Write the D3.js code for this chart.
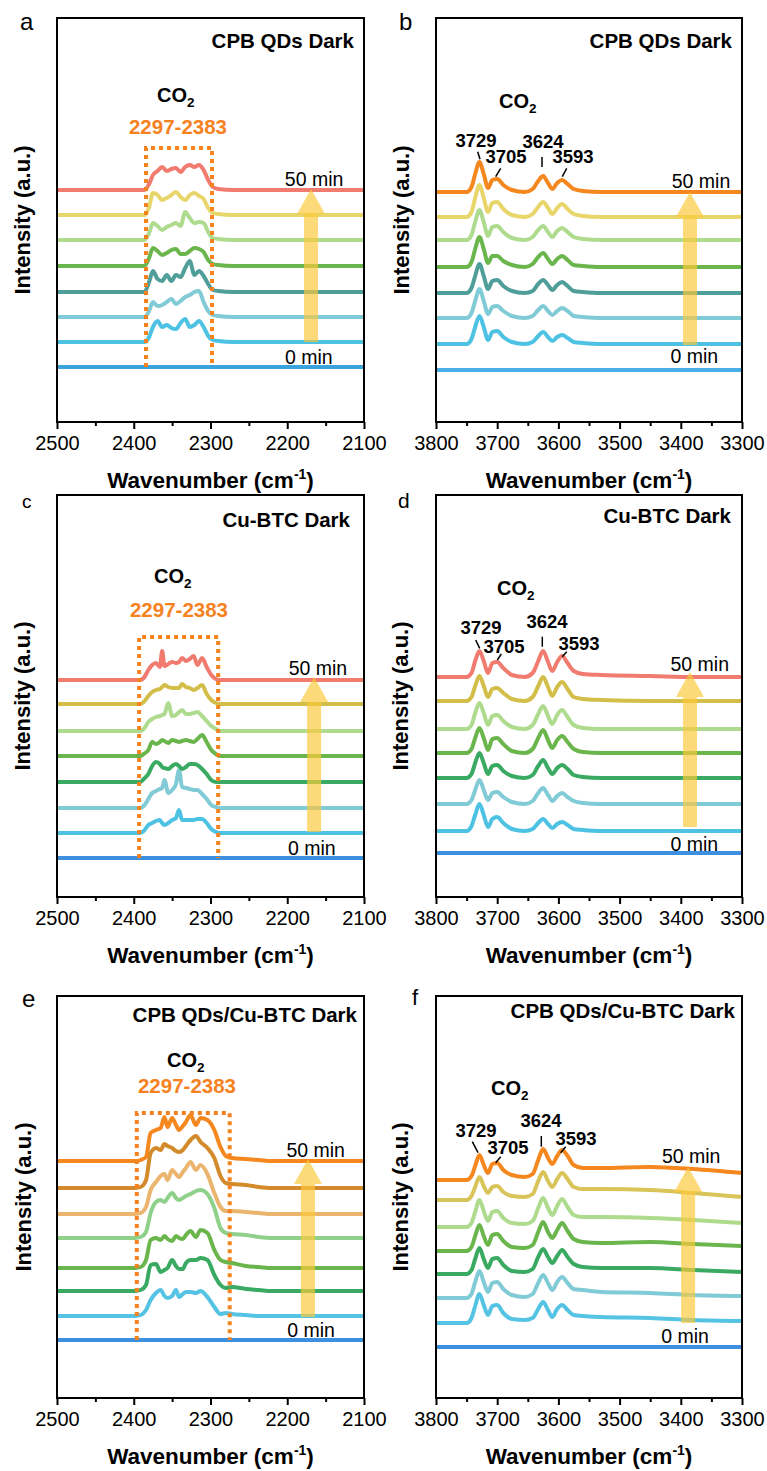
<!DOCTYPE html>
<html lang="en">
<head>
<meta charset="utf-8">
<title>DRIFTS spectra, dark CO2 adsorption</title>
<script src="https://cdn.jsdelivr.net/npm/d3@7"></script>
<style>
  body { margin: 0; background: #fff; }
  svg { font-family: "Liberation Sans", Arial, sans-serif; }
</style>
</head>
<body>
<script>
// ---------- values ----------
// x grids (wavenumber, cm-1)
var wnA = [2500, 2386, 2380, 2375, 2369, 2363, 2357, 2351, 2345, 2339, 2333, 2327, 2321, 2315, 2309, 2303, 2297, 2290, 2270, 2100];
var wnC = [2500, 2392, 2387, 2381, 2376, 2371, 2366, 2363, 2360, 2355, 2350, 2345, 2341, 2337, 2332, 2327, 2322, 2317, 2311, 2305, 2299, 2293, 2288, 2100];
var wnE = [2500, 2398, 2391, 2384, 2378, 2371, 2365, 2360, 2356, 2350, 2345, 2341, 2336, 2332, 2326, 2319, 2313, 2304, 2295, 2287, 2280, 2272, 2254, 2237, 2220, 2100];
var wnOH = [3800, 3750, 3742, 3736, 3729, 3722, 3715, 3708, 3700, 3690, 3676, 3655, 3642, 3633, 3625, 3617, 3610, 3602, 3594, 3585, 3575, 3560, 3530, 3450, 3380, 3300];

var ticksCO2 = [2500, 2400, 2300, 2200, 2100];
var minorCO2 = [2450, 2350, 2250, 2150];
var ticksOH = [3800, 3700, 3600, 3500, 3400, 3300];
var minorOH = [3750, 3650, 3550, 3450, 3350];

var titles = ["CPB QDs Dark", "CPB QDs Dark", "Cu-BTC Dark", "Cu-BTC Dark", "CPB QDs/Cu-BTC Dark", "CPB QDs/Cu-BTC Dark"];
var letters = ["a", "b", "c", "d", "e", "f"];
var timeLabels = ["0 min", "50 min"];
var bandLabel = "2297-2383";
var peakLabels = ["3729", "3705", "3624", "3593"];

// stacking offsets (a.u.): background, 0 min ... 50 min
var offA = [55, 80, 105, 130, 156, 182, 207, 232];
var offB = [52, 78, 104, 129, 155, 182, 205, 230];
var offC = [39, 64, 89, 115, 141, 166, 193, 217];
var offD = [44, 66, 93, 119, 144, 168, 196, 220];
var offE = [58, 82, 107, 130, 160, 184, 210, 237];
var offF = [51, 75, 100, 124, 147, 171, 198, 218];

// spectra above their offset, 0 min first
var specA = [
  [0,0,5,15,21,15,17,14,13,19,23,15,17,21,15,6,2,1,0,0],
  [0,0,6,15,11,12,15,18,13,16,20,22,25,26,15,6,2,1,0,0],
  [0,0,10,21,13,11,17,11,17,15,24,31,17,21,16,8,2,1,0,0],
  [0,0,8,18,15,11,13,16,17,12,12,15,18,17,14,6,2,1,0,0],
  [0,0,7,17,14,10,13,15,17,14,28,22,17,18,17,8,2,1,0,0],
  [0,0,8,22,20,15,17,20,23,18,15,20,22,19,16,7,2,1,0,0],
  [0,0,6,15,19,23,19,21,22,18,23,25,23,25,20,10,3,1,0,0]
];
var specB = [
  [0,0,5,17,28,17,4,12,13,7,2,0,2,8,12,7,3,7,9,6,2,1,0,0,0,0],
  [0,0,5,17,29,17,4,11,12,7,2,0,2,8,12,7,3,7,10,7,2,1,0,0,0,0],
  [0,0,5,17,29,17,4,12,13,7,2,0,2,9,13,8,3,8,11,7,2,1,0,0,0,0],
  [0,0,5,18,30,18,4,11,11,6,2,0,3,10,14,8,3,8,11,7,2,1,0,0,0,0],
  [0,0,5,18,30,18,4,13,14,8,2,0,3,10,14,8,3,9,12,8,3,1,0,0,0,0],
  [0,0,5,19,32,19,5,14,15,8,2,0,3,10,15,9,3,9,13,8,3,1,0,0,0,0],
  [0,0,5,18,30,18,4,12,13,7,2,0,3,11,16,9,3,9,12,8,3,1,0,0,0,0]
];
var specC = [
  [0,0,2,8,10,12,13,10,8,10,13,15,23,13,13,13,13,14,14,10,4,1,0,0],
  [0,0,2,9,15,17,19,20,28,15,18,24,38,21,20,19,18,18,14,9,3,1,0,0],
  [0,0,3,8,16,20,18,15,14,13,16,18,16,13,15,18,18,17,13,8,2,0,0,0],
  [0,0,2,6,14,12,14,16,15,13,16,15,14,15,16,15,14,17,21,14,6,2,0,0],
  [0,0,2,9,12,14,15,16,17,28,15,16,19,21,17,17,18,19,15,10,5,2,0,0],
  [0,0,2,8,12,14,15,17,19,17,16,16,16,20,17,16,14,16,19,10,4,1,0,0],
  [0,0,2,10,15,17,13,29,14,16,18,17,18,22,19,21,24,15,22,13,5,1,0,0]
];
var specD = [
  [0,0,5,16,27,16,4,12,14,8,2,0,2,8,12,7,3,7,9,6,2,1,0,0,0,0],
  [0,0,4,14,24,14,4,11,12,7,2,0,3,11,16,9,3,8,11,7,3,1,0,0,0,0],
  [0,0,4,15,25,15,4,12,13,7,2,0,3,12,18,10,4,10,13,9,3,1,0,0,0,0],
  [0,0,4,15,25,15,3,14,15,9,2,0,4,15,23,13,5,13,17,11,4,1,0,0,0,0],
  [0,0,4,16,26,16,4,13,14,8,2,0,4,15,23,13,5,14,19,12,4,1,0,0,0,0],
  [0,0,4,15,25,15,4,12,13,8,2,0,4,15,24,14,5,14,19,12,4,2,1,0,0,0],
  [0,0,4,16,26,16,4,14,15,9,2,0,4,16,26,15,6,15,21,14,6,3,2,1,0,0]
];
var specE = [
  [0,0,1,6,16,23,26,20,18,20,26,19,22,24,24,23,25,19,9,2,3,2,1,0,0,0],
  [0,0,1,6,26,27,19,21,23,31,25,22,22,28,31,31,33,31,16,6,3,4,2,1,0,0],
  [0,0,1,8,28,30,28,32,29,27,32,30,29,33,37,31,38,35,18,8,6,5,2,1,0,0],
  [0,0,1,6,25,36,38,36,40,45,40,38,40,42,44,47,48,44,30,10,5,4,3,1,0,0],
  [0,0,1,7,24,32,38,40,34,44,40,37,42,46,52,44,49,40,21,7,3,3,2,1,0,0],
  [0,0,1,8,35,40,38,44,42,40,37,36,38,42,48,52,46,40,30,12,5,4,3,1,0,0],
  [0,0,1,4,28,31,33,44,34,43,36,31,35,39,46,36,43,41,31,14,5,3,2,1,0,0]
];
var specF = [
  [0,0,5,17,29,18,8,17,18,10,4,3,5,14,21,13,6,14,18,13,8,7,6,5,3,2],
  [0,0,4,16,27,16,6,15,16,9,3,1,4,15,23,15,8,16,21,15,9,8,6,5,3,2],
  [0,0,4,15,26,15,6,15,16,9,3,2,5,17,25,17,11,18,24,17,10,7,6,6,4,2],
  [0,0,4,15,26,15,6,16,17,10,4,3,6,19,29,19,13,21,28,20,12,9,8,9,7,5],
  [0,0,4,15,27,16,6,15,16,9,4,3,6,19,29,19,12,21,28,20,12,10,10,9,7,4],
  [0,0,4,13,23,14,7,13,14,8,4,3,6,19,28,19,13,21,27,21,13,11,11,10,7,3],
  [0,0,4,14,25,15,7,16,17,10,5,3,6,20,31,22,16,24,30,24,15,12,12,13,11,7]
];

// dotted band box [wn left, wn right, top a.u.]
var boxA = [2384, 2298, 274];
var boxC = [2393, 2290, 260];
var boxE = [2396, 2275, 285];

// time arrow [wn, from a.u., to a.u.]
var arrows = [[2169, 80, 233], [3385, 77, 230], [2165, 65, 220], [3385, 70, 225], [2173, 81, 239], [3388, 75, 231]];
// time label anchors [wn, a.u.] for 0 min and 50 min
var lab0 = [[2172, 58], [3378, 59], [2168, 42], [3378, 46], [2169, 61], [3393, 55]];
var lab50 = [[2165, 236], [3367, 234], [2160, 222], [3369, 226], [2163, 241], [3383, 235]];

// ---------- styles ----------
var colA = ["#3aa3de", "#4dc2e3", "#80cbd6", "#4f9e99", "#6bb64c", "#aedb8e", "#e8d66a", "#f07b6e"];
var colB = ["#4aaee8", "#4dc2e3", "#80cbd6", "#4f9e99", "#6bb64c", "#aedb8e", "#e8d66a", "#f5871f"];
var colC = ["#3d8fe0", "#4dc2e3", "#80cbd6", "#3aaa62", "#6bb64c", "#aedb8e", "#d4be4a", "#f07b6e"];
var colE = ["#3d8fe0", "#55c3e3", "#3aaa62", "#6bb64c", "#8fd18a", "#ebb46f", "#d28a2a", "#f5871f"];
var colF = ["#3d8fe0", "#55c3e3", "#80cbd6", "#3aaa62", "#6bb64c", "#aedb8e", "#d9c45a", "#f5871f"];
var orange = "#f5821f";

var cols = [[57, 364], [436, 742]];
var rows = [[18, 422], [495, 897], [996, 1398]];

var svg = d3.select("body").append("svg")
    .attr("width", 767)
    .attr("height", 1471);

var panels = [
  {grid: wnA, off: offA, spec: specA, col: colA, dom: [2500, 2100], ticks: ticksCO2, minor: minorCO2, box: boxA,
   co2: [157, 102], band: [178, 134], title: [354, 48], letter: [20, 30, 24], ylab: 22},
  {grid: wnOH, off: offB, spec: specB, col: colB, dom: [3800, 3300], ticks: ticksOH, minor: minorOH,
   co2: [499, 108], peaks: [[476, 147], [506, 163], [543, 148], [573, 163]],
   leads: [[477.7, 151.7, 480, 159.3], [500.7, 168.3, 495.7, 176.7], [542, 157, 542, 167], [566.7, 168.3, 562.3, 176.7]],
   title: [732, 48], letter: [399, 30, 24], ylab: 401},
  {grid: wnC, off: offC, spec: specC, col: colC, dom: [2500, 2100], ticks: ticksCO2, minor: minorCO2, box: boxC,
   co2: [154, 583], band: [179, 617], title: [350, 527], letter: [22, 508, 19], ylab: 22},
  {grid: wnOH, off: offD, spec: specD, col: colC, dom: [3800, 3300], ticks: ticksOH, minor: minorOH,
   co2: [497, 595], peaks: [[481, 634], [504, 653], [547, 628], [579, 650]],
   leads: [[475.7, 640, 479.7, 648.3], [501.3, 654, 497.3, 660], [542.3, 636.7, 542.3, 646.7], [566.7, 651.7, 562.3, 656.7]],
   title: [731, 523], letter: [398, 508, 21], ylab: 400},
  {grid: wnE, off: offE, spec: specE, col: colE, dom: [2500, 2100], ticks: ticksCO2, minor: minorCO2, box: boxE,
   co2: [167, 1067], band: [187, 1093], title: [357, 1022], letter: [22, 1007, 24], ylab: 23},
  {grid: wnOH, off: offF, spec: specF, col: colF, dom: [3800, 3300], ticks: ticksOH, minor: minorOH,
   co2: [491, 1095], peaks: [[476, 1137], [508, 1154], [541, 1127], [576, 1145]],
   leads: [[472.3, 1141.7, 478, 1152.7], [500.7, 1156.7, 495.7, 1162.7], [541.3, 1136, 541.3, 1146.7], [565.7, 1146.7, 560.7, 1152.7]],
   title: [735, 1018], letter: [412, 1005, 22], ylab: 400}
];

panels.forEach(function(p, k) {
  var cx = cols[k % 2], ry = rows[Math.floor(k / 2)];
  var x = d3.scaleLinear().domain(p.dom).range(cx);
  var y = d3.scaleLinear().domain([0, ry[1] - ry[0]]).range([ry[1], ry[0]]);
  var g = svg.append("g");

  var line = d3.line()
      .x(function(d) { return x(d[0]); })
      .y(function(d) { return y(d[1]); })
      .curve(d3.curveMonotoneX);

  // background spectrum (flat)
  g.append("path")
      .attr("d", line([[p.dom[0], p.off[0]], [p.dom[1], p.off[0]]]))
      .attr("fill", "none")
      .attr("stroke", p.col[0])
      .attr("stroke-width", 4);

  p.spec.forEach(function(s, i) {
    var pts = p.grid.map(function(w, j) { return [w, p.off[i + 1] + s[j]]; });
    g.append("path")
        .attr("d", line(pts))
        .attr("fill", "none")
        .attr("stroke", p.col[i + 1])
        .attr("stroke-width", 4)
        .attr("stroke-linejoin", "round");
  });

  // dotted band box
  if (p.box) {
    var bx0 = x(p.box[0]), bx1 = x(p.box[1]), by0 = y(p.off[0]), by1 = y(p.box[2]);
    g.append("path")
        .attr("d", "M" + bx0 + "," + by0 + "V" + by1 + "H" + bx1 + "V" + by0)
        .attr("fill", "none")
        .attr("stroke", orange)
        .attr("stroke-width", 4)
        .attr("stroke-dasharray", "4 4");
  }

  // time arrow
  var a = arrows[k], ax = x(a[0]), ab = y(a[1]), at = y(a[2]);
  g.append("path")
      .attr("d", "M" + (ax - 7) + "," + ab + "V" + (at + 25) + "H" + (ax - 14) + "L" + ax + "," + at +
                 "L" + (ax + 14) + "," + (at + 25) + "H" + (ax + 7) + "V" + ab + "Z")
      .attr("fill", "#fcc93a")
      .attr("opacity", 0.68);

  g.append("text").attr("x", x(lab0[k][0])).attr("y", y(lab0[k][1]))
      .attr("text-anchor", "middle").attr("font-size", 19.5).text(timeLabels[0]);
  g.append("text").attr("x", x(lab50[k][0])).attr("y", y(lab50[k][1]))
      .attr("text-anchor", "middle").attr("font-size", 19.5).text(timeLabels[1]);

  // frame
  g.append("rect")
      .attr("x", cx[0]).attr("y", ry[0])
      .attr("width", cx[1] - cx[0]).attr("height", ry[1] - ry[0])
      .attr("fill", "none").attr("stroke", "#000").attr("stroke-width", 2);

  // x axis
  var ax1 = g.append("g")
      .attr("transform", "translate(0," + ry[1] + ")")
      .call(d3.axisBottom(x).tickValues(p.ticks).tickSize(7).tickFormat(d3.format("d")));
  ax1.select(".domain").remove();
  ax1.selectAll(".tick line").attr("stroke-width", 2);
  ax1.selectAll(".tick text")
      .attr("y", 28).attr("dy", 0)
      .attr("font-size", 20)
      .attr("font-family", "'Liberation Sans', Arial, sans-serif")
      .attr("fill", "#000");
  var ax2 = g.append("g")
      .attr("transform", "translate(0," + ry[1] + ")")
      .call(d3.axisBottom(x).tickValues(p.minor).tickSize(4).tickFormat(""));
  ax2.select(".domain").remove();
  ax2.selectAll(".tick line").attr("stroke-width", 2);

  var xl = g.append("text")
      .attr("x", (cx[0] + cx[1]) / 2).attr("y", ry[1] + 66)
      .attr("text-anchor", "middle")
      .attr("font-size", 22.5).attr("font-weight", "bold");
  xl.append("tspan").text("Wavenumber (cm");
  xl.append("tspan").attr("font-size", 14).attr("dy", -9).text("-1");
  xl.append("tspan").attr("dy", 9).text(")");

  g.append("text")
      .attr("transform", "translate(" + (p.ylab + 8) + "," + ((ry[0] + ry[1]) / 2) + ") rotate(-90)")
      .attr("text-anchor", "middle")
      .attr("font-size", 22).attr("font-weight", "bold")
      .text("Intensity (a.u.)");

  // title and panel letter
  g.append("text")
      .attr("x", p.title[0]).attr("y", p.title[1])
      .attr("text-anchor", "end")
      .attr("font-size", 20.5).attr("font-weight", "bold")
      .text(titles[k]);
  g.append("text")
      .attr("x", p.letter[0]).attr("y", p.letter[1])
      .attr("font-size", p.letter[2])
      .text(letters[k]);

  // CO2 label
  var c = g.append("text")
      .attr("x", p.co2[0]).attr("y", p.co2[1])
      .attr("font-size", 20).attr("font-weight", "bold");
  c.append("tspan").text("CO");
  c.append("tspan").attr("font-size", 13.5).attr("dy", 5).text("2");

  if (p.band) {
    g.append("text")
        .attr("x", p.band[0]).attr("y", p.band[1])
        .attr("text-anchor", "middle")
        .attr("font-size", 20.5).attr("font-weight", "bold")
        .attr("fill", orange)
        .text(bandLabel);
  }

  if (p.peaks) {
    p.peaks.forEach(function(q, i) {
      g.append("text")
          .attr("x", q[0]).attr("y", q[1])
          .attr("text-anchor", "middle")
          .attr("font-size", 18.5).attr("font-weight", "bold")
          .text(peakLabels[i]);
      var l = p.leads[i];
      g.append("line")
          .attr("x1", l[0]).attr("y1", l[1]).attr("x2", l[2]).attr("y2", l[3])
          .attr("stroke", "#000").attr("stroke-width", 1.5);
    });
  }
});
</script>
</body>
</html>
